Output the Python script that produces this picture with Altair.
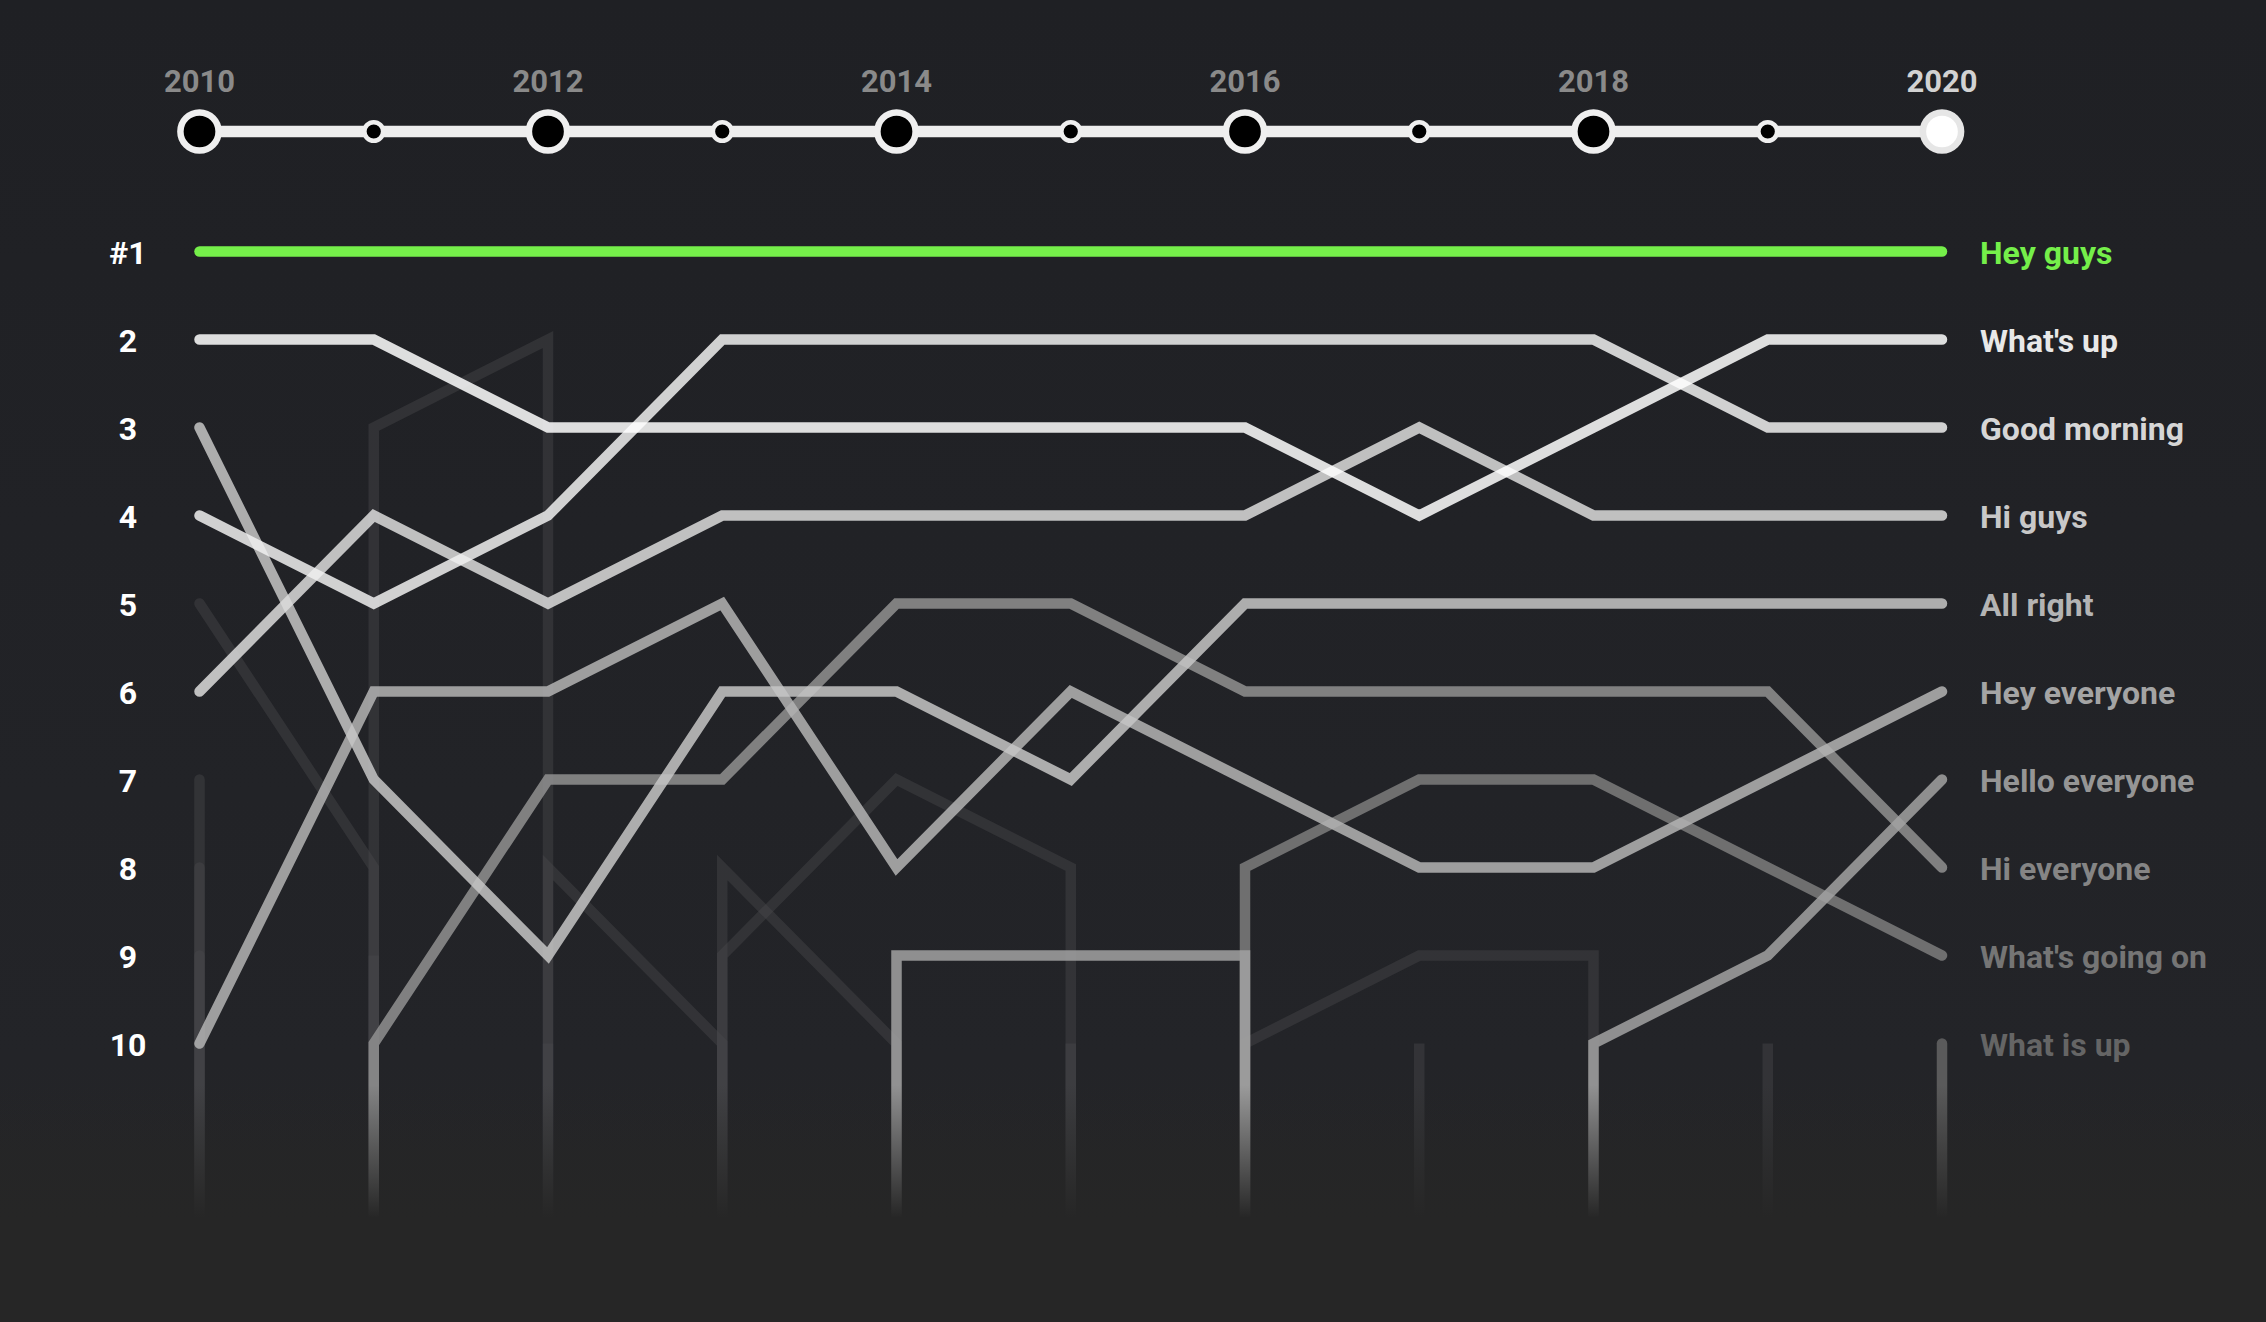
import altair as alt
import pandas as pd

# ---------------- data ----------------
YEARS = [2010, 2011, 2012, 2013, 2014, 2015, 2016, 2017, 2018, 2019, 2020]
MAJOR_YEARS = [2010, 2012, 2014, 2016, 2018]
MINOR_YEARS = [2011, 2013, 2015, 2017, 2019]
CURRENT_YEAR = [2020]
YEAR_LABELS = ["2010", "2012", "2014", "2016", "2018", "2020"]
YEAR_LABEL_COLORS = ["#8a8a8a", "#8a8a8a", "#8a8a8a", "#8a8a8a", "#8a8a8a", "#d2d2d2"]

RANK_TICKS = ["#1", "2", "3", "4", "5", "6", "7", "8", "9", "10"]
RANK_VALUES = [1, 2, 3, 4, 5, 6, 7, 8, 9, 10]

N = None
SERIES = ["Hey guys", "What's up", "Good morning", "Hi guys", "All right",
          "Hey everyone", "Hello everyone", "Hi everyone", "What's going on", "What is up"]
RANKS = {
    "Hey guys":        [1, 1, 1, 1, 1, 1, 1, 1, 1, 1, 1],
    "What's up":       [2, 2, 3, 3, 3, 3, 3, 4, 3, 2, 2],
    "Good morning":    [4, 5, 4, 2, 2, 2, 2, 2, 2, 3, 3],
    "Hi guys":         [6, 4, 5, 4, 4, 4, 4, 3, 4, 4, 4],
    "All right":       [3, 7, 9, 6, 6, 7, 5, 5, 5, 5, 5],
    "Hey everyone":    [10, 6, 6, 5, 8, 6, 7, 8, 8, 7, 6],
    "Hello everyone":  [N, N, N, N, 9, 9, 9, N, 10, 9, 7],
    "Hi everyone":     [N, 10, 7, 7, 5, 5, 6, 6, 6, 6, 8],
    "What's going on": [N, N, N, N, N, N, 8, 7, 7, 8, 9],
    "What is up":      [N, N, N, N, N, N, N, N, N, N, 10],
}
LINE_COLORS = ["#75ef4a", "#ffffff", "#f0f0f0", "#dcdcdc", "#c6c6c6",
               "#b4b4b4", "#a2a2a2", "#909090", "#7c7c7c", "#646464"]
LABEL_COLORS = ["#75ef4a", "#e8e8e8", "#d6d6d6", "#c8c8c8", "#b4b4b4",
                "#a4a4a4", "#959595", "#858585", "#757575", "#656565"]

# phrases that never reach the 2020 top 10
OTHERS = {
    "o1":  [5, 8, N, N, N, N, N, N, N, N, N],
    "o2":  [N, 3, 2, N, N, N, N, N, N, N, N],
    "o3":  [N, N, 8, 10, N, N, N, N, N, N, N],
    "o4":  [N, N, N, 9, 7, 8, N, N, N, N, N],
    "o5":  [N, N, N, 8, 10, N, N, N, N, N, N],
    "o6":  [N, N, N, N, N, N, 10, 9, 9, N, N],
    "o7":  [7, N, N, N, N, N, N, N, N, N, N],
    "o8":  [8, N, N, N, N, N, N, N, N, N, N],
    "o9":  [9, N, N, N, N, N, N, N, N, N, N],
    "o10": [N, 9, N, N, N, N, N, N, N, N, N],
    "o11": [N, N, 10, N, N, N, N, N, N, N, N],
    "o12": [N, N, N, N, N, 10, N, N, N, N, N],
    "o13": [N, N, N, N, N, N, N, 10, N, N, N],
    "o14": [N, N, N, N, N, N, N, N, N, 10, N],
}

OUT = 13.0  # "out of the top 10" level, hidden under the fade


def build_rows(name, ranks):
    rows, idx = [], 0
    for i, (yr, r) in enumerate(zip(YEARS, ranks)):
        if r is None:
            continue
        if i > 0 and ranks[i - 1] is None:
            rows.append(dict(series=name, year=yr, rank=OUT, idx=idx)); idx += 1
        rows.append(dict(series=name, year=yr, rank=r, idx=idx)); idx += 1
        if i < len(ranks) - 1 and ranks[i + 1] is None:
            rows.append(dict(series=name, year=yr, rank=OUT, idx=idx)); idx += 1
    return rows


# ---------------- scales ----------------
XS = alt.Scale(domain=[2010, 2020], range=[199.5, 1942], nice=False, zero=False)
YS = alt.Scale(domain=[1, 10], range=[251.5, 1043.5], nice=False, zero=False)
X = alt.X("year:Q", scale=XS, axis=None)
Y = alt.Y("rank:Q", scale=YS, axis=None)

layers = []

# background gradient
bg = alt.Chart(pd.DataFrame({"k": [0]})).mark_rect(
    fill=alt.LinearGradient(
        gradient="linear",
        stops=[alt.GradientStop(color="#1f2024", offset=0),
               alt.GradientStop(color="#232428", offset=0.8),
               alt.GradientStop(color="#262626", offset=1)],
        x1=0, x2=0, y1=0, y2=1)
).encode(x=alt.value(0), x2=alt.value(2266), y=alt.value(0), y2=alt.value(1322))
layers.append(bg)

# other (dark) lines
other_rows = []
for k, v in OTHERS.items():
    other_rows += build_rows(k, v)
other_df = pd.DataFrame(other_rows)
layers.append(
    alt.Chart(other_df).mark_line(color="#4a4a4d", opacity=0.42, strokeWidth=10.5,
                                  strokeCap="round", strokeJoin="miter").encode(
        x=X, y=Y, detail="series:N", order=alt.Order("idx:Q"))
)

# named lines, drawn from lowest to highest 2020 rank
for name, col in reversed(list(zip(SERIES, LINE_COLORS))):
    d = pd.DataFrame(build_rows(name, RANKS[name]))
    op = 1.0 if name == "Hey guys" else 0.85
    layers.append(
        alt.Chart(d).mark_line(color=col, opacity=op, strokeWidth=10.5,
                               strokeCap="round", strokeJoin="miter").encode(
            x=X, y=Y, order=alt.Order("idx:Q"))
    )

# fade at the bottom
fade = alt.Chart(pd.DataFrame({"k": [0]})).mark_rect(
    fill=alt.LinearGradient(
        gradient="linear",
        stops=[alt.GradientStop(color="rgba(38,38,38,0)", offset=0),
               alt.GradientStop(color="rgba(38,38,38,1)", offset=0.56),
               alt.GradientStop(color="rgba(38,38,38,1)", offset=1)],
        x1=0, x2=0, y1=0, y2=1)
).encode(x=alt.value(0), x2=alt.value(2266), y=alt.value(1085), y2=alt.value(1322))
layers.append(fade)

# end labels
lab_df = pd.DataFrame({"series": SERIES, "year": [2020] * len(SERIES),
                       "rank": [RANKS[s][-1] for s in SERIES]})
layers.append(
    alt.Chart(lab_df).mark_text(align="left", baseline="middle", dx=38, dy=2, font="Roboto",
                                fontWeight="bold", fontSize=32).encode(
        x=X, y=Y, text="series:N",
        color=alt.Color("series:N", scale=alt.Scale(domain=SERIES, range=LABEL_COLORS), legend=None))
)

# rank labels
rank_df = pd.DataFrame({"rank": RANK_VALUES, "label": RANK_TICKS})
layers.append(
    alt.Chart(rank_df).mark_text(align="center", baseline="middle", dy=2, font="Roboto",
                                 fontWeight="bold", fontSize=32, color="#ffffff").encode(
        x=alt.value(128), y=Y, text="label:N")
)

# timeline
layers.append(
    alt.Chart(pd.DataFrame({"year": [YEARS[0]], "year2": [YEARS[-1]]})).mark_rule(
        color="#eeeeee", strokeWidth=11.5).encode(
        x=X, x2="year2:Q", y=alt.value(131.5))
)
layers.append(
    alt.Chart(pd.DataFrame({"year": MINOR_YEARS})).mark_point(
        shape="circle", filled=True, fill="#000000", stroke="#efefef", strokeWidth=4.5,
        size=350, opacity=1, fillOpacity=1, strokeOpacity=1).encode(
        x=X, y=alt.value(131.5))
)
layers.append(
    alt.Chart(pd.DataFrame({"year": MAJOR_YEARS})).mark_point(
        shape="circle", filled=True, fill="#000000", stroke="#efefef", strokeWidth=6.5,
        size=1460, opacity=1, fillOpacity=1, strokeOpacity=1).encode(
        x=X, y=alt.value(131.5))
)
layers.append(
    alt.Chart(pd.DataFrame({"year": CURRENT_YEAR})).mark_point(
        shape="circle", filled=True, fill="#ffffff", stroke="#e6e6e6", strokeWidth=6.5,
        size=1460, opacity=1, fillOpacity=1, strokeOpacity=1).encode(
        x=X, y=alt.value(131.5))
)
ylab_df = pd.DataFrame({"year": MAJOR_YEARS + CURRENT_YEAR, "label": YEAR_LABELS})
layers.append(
    alt.Chart(ylab_df).mark_text(align="center", baseline="middle", font="Roboto",
                                 fontWeight="bold", fontSize=31).encode(
        x=X, y=alt.value(83), text="label:N",
        color=alt.Color("label:N", scale=alt.Scale(domain=YEAR_LABELS, range=YEAR_LABEL_COLORS),
                        legend=None))
)

chart = alt.layer(*layers).resolve_scale(color="independent").properties(
    width=2266, height=1322, padding=0,
    autosize=alt.AutoSizeParams(type="none"),
    background="#212226",
).configure_view(stroke=None)

chart.save("out.html", embed_options={"renderer": "svg", "actions": False})
